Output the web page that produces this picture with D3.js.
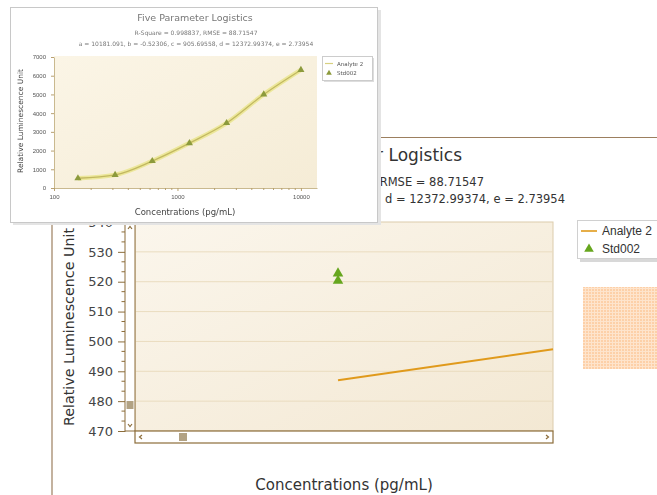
<!DOCTYPE html>
<html><head><meta charset="utf-8">
<script src="https://cdn.jsdelivr.net/npm/d3@7"></script>
<style>
html,body{margin:0;padding:0;background:#fff;}
svg{display:block;font-family:"DejaVu Sans",Verdana,sans-serif;}
</style></head>
<body>
<svg id="c" width="657" height="495"></svg>
<script>
// ---------- data ----------
const chartTitle = "Five Parameter Logistics";
const statsLine = "R-Square = 0.998837, RMSE = 88.71547";
const paramLine = "a = 10181.091, b = -0.52306, c = 905.69558, d = 12372.99374, e = 2.73954";
const xTitle = "Concentrations (pg/mL)";
const yTitle = "Relative Luminescence Unit";
const seriesNames = ["Analyte 2", "Std002"];

// zoomed main chart
const mainYTicks = [470, 480, 490, 500, 510, 520, 530, 540];
const mainStdConc = [156.25, 156.25];
const mainStdRLU = [522.8, 520.3];
const mainCurveConc = [156.25, 160.4];
const mainCurveRLU = [487.0, 497.4];

// overview inset chart
const insetYTicks = [0, 1000, 2000, 3000, 4000, 5000, 6000, 7000];
const insetXTicks = [100, 1000, 10000];
const insetStdConc = [156.25, 312.5, 625, 1250, 2500, 5000, 10000];
const insetStdRLU = [521, 700, 1440, 2400, 3470, 5000, 6310];

const svg = d3.select("#c");
const defs = svg.append("defs");

const g1 = defs.append("linearGradient").attr("id","plotbg").attr("x1","0").attr("y1","0").attr("x2","1").attr("y2","1");
g1.append("stop").attr("offset","0").attr("stop-color","#fbf6ec");
g1.append("stop").attr("offset","1").attr("stop-color","#f3e8d3");

const g2 = defs.append("linearGradient").attr("id","insetbg").attr("x1","0").attr("y1","0").attr("x2","1").attr("y2","1");
g2.append("stop").attr("offset","0").attr("stop-color","#fbf5e6");
g2.append("stop").attr("offset","1").attr("stop-color","#f5ecd6");

const pat = defs.append("pattern").attr("id","grid").attr("width",3).attr("height",3).attr("patternUnits","userSpaceOnUse");
pat.append("rect").attr("width",3).attr("height",3).attr("fill","#fdd0a8");
pat.append("path").attr("d","M0,0.5H3M0.5,0V3").attr("stroke","#fee4cc").attr("stroke-width",1);

const blur = defs.append("filter").attr("id","soft").attr("x","-5%").attr("y","-5%").attr("width","110%").attr("height","110%");
blur.append("feGaussianBlur").attr("stdDeviation",0.45);

defs.append("clipPath").attr("id","vis").append("rect").attr("x",378).attr("y",140).attr("width",279).attr("height",80);

const brown = "#8c6d3a";
const orange = "#e09a1c";
const green = "#66a61e";

// ---------- main (zoomed) chart ----------
svg.append("line").attr("x1",52).attr("x2",52).attr("y1",137).attr("y2",495).attr("stroke","#9c7f5f").attr("stroke-width",1.2);
svg.append("line").attr("x1",52).attr("x2",657).attr("y1",137.5).attr("y2",137.5).attr("stroke","#9c7f5f").attr("stroke-width",1.2);

const T = svg.append("g").attr("clip-path","url(#vis)");
T.append("text").attr("x",462).attr("y",161).attr("text-anchor","end")
  .attr("font-size",17).attr("fill","#333").text(chartTitle);
T.append("text").attr("x",484).attr("y",186).attr("text-anchor","end")
  .attr("font-size",11.5).attr("fill","#333").text(statsLine);
T.append("text").attr("x",565).attr("y",203).attr("text-anchor","end")
  .attr("font-size",11.5).attr("fill","#333").text(paramLine);

const P = {l:135, r:553, t:222, b:431};
const x = d3.scaleLog().domain([152.43, 160.4]).range([P.l, P.r]);
const y = d3.scaleLinear().domain([470, 540]).range([P.b, P.t]);

svg.append("rect").attr("x",P.l).attr("y",P.t).attr("width",P.r-P.l).attr("height",P.b-P.t)
  .attr("fill","url(#plotbg)").attr("stroke","#dcccac").attr("stroke-width",1);

svg.append("g").selectAll("line").data(mainYTicks.slice(1,-1)).join("line")
  .attr("x1",P.l).attr("x2",P.r).attr("y1",d=>y(d)).attr("y2",d=>y(d))
  .attr("stroke","#eadcbf").attr("stroke-width",1);

const line = d3.line().x(d=>x(d[0])).y(d=>y(d[1]));
svg.append("path").datum(d3.zip(mainCurveConc, mainCurveRLU)).attr("d",line)
  .attr("fill","none").attr("stroke",orange).attr("stroke-width",2);

const tri = d3.symbol().type(d3.symbolTriangle).size(48);
svg.append("g").selectAll("path").data(d3.zip(mainStdConc, mainStdRLU)).join("path")
  .attr("d",tri).attr("transform",d=>`translate(${x(d[0])},${y(d[1])})`).attr("fill",green);

// y axis
const axX = 125;
const yAxis = d3.axisLeft(y).tickValues(mainYTicks).tickSize(7).tickSizeOuter(0).tickPadding(5);
const ga = svg.append("g").attr("transform",`translate(${axX},0)`).call(yAxis);
ga.select(".domain").attr("stroke",brown);
ga.selectAll(".tick line").attr("stroke",brown);
ga.selectAll(".tick text").attr("font-size",13).attr("fill","#444").attr("font-family","DejaVu Sans, sans-serif");
const minor = d3.range(470, 540.01, 10/3).filter(v => Math.abs(v - Math.round(v/10)*10) > 0.5);
svg.append("g").selectAll("line").data(minor).join("line")
  .attr("x1",axX-3.5).attr("x2",axX).attr("y1",d=>y(d)).attr("y2",d=>y(d)).attr("stroke",brown);

// vertical scrollbar
svg.append("rect").attr("x",axX).attr("y",P.t).attr("width",P.l-axX).attr("height",P.b-P.t)
  .attr("fill","#fff").attr("stroke",brown).attr("stroke-width",1);
svg.append("path").attr("d",`M${axX+3},${P.t+7}L${axX+5},${P.t+4.5}L${axX+7},${P.t+7}`).attr("fill","none").attr("stroke",brown).attr("stroke-width",1.2);
svg.append("path").attr("d",`M${axX+3},${P.b-7}L${axX+5},${P.b-4.5}L${axX+7},${P.b-7}`).attr("fill","none").attr("stroke",brown).attr("stroke-width",1.2);
svg.append("rect").attr("x",axX+1.5).attr("y",401).attr("width",7).attr("height",8).attr("fill","#b2a283");

// horizontal scrollbar
svg.append("rect").attr("x",P.l).attr("y",P.b).attr("width",P.r-P.l).attr("height",12)
  .attr("fill","#fff").attr("stroke",brown).attr("stroke-width",1.2);
svg.append("path").attr("d",`M${P.l+7},${P.b+4}L${P.l+4.5},${P.b+6}L${P.l+7},${P.b+8}`).attr("fill","none").attr("stroke",brown).attr("stroke-width",1.2);
svg.append("path").attr("d",`M${P.r-7},${P.b+4}L${P.r-4.5},${P.b+6}L${P.r-7},${P.b+8}`).attr("fill","none").attr("stroke",brown).attr("stroke-width",1.2);
svg.append("rect").attr("x",179).attr("y",P.b+2).attr("width",8).attr("height",8).attr("fill","#b2a283");

// axis titles
svg.append("text").attr("x",344).attr("y",490).attr("text-anchor","middle")
  .attr("font-size",15).attr("fill","#333").text(xTitle);
svg.append("text").attr("transform","translate(74,327) rotate(-90)").attr("text-anchor","middle")
  .attr("font-size",14.3).attr("fill","#333").text(yTitle);

// legend
const L = svg.append("g");
L.append("rect").attr("x",580).attr("y",223).attr("width",90).attr("height",39).attr("fill","#d8d8d8");
L.append("rect").attr("x",577.5).attr("y",220.5).attr("width",90).attr("height",38).attr("fill","#fff").attr("stroke","#d0d0d0");
L.append("line").attr("x1",581).attr("x2",597).attr("y1",231).attr("y2",231).attr("stroke",orange).attr("stroke-width",1.6);
L.append("path").attr("d",d3.symbol().type(d3.symbolTriangle).size(40)).attr("transform","translate(589,249)").attr("fill",green);
L.selectAll("text").data(seriesNames).join("text")
  .attr("x",602).attr("y",(d,i)=>235+i*18).attr("font-size",12).attr("font-family","Liberation Sans, Arial, sans-serif")
  .attr("fill","#333").text(d=>d);

// patterned box
svg.append("rect").attr("x",583).attr("y",287).attr("width",74).attr("height",82).attr("fill","url(#grid)");

// ---------- inset (overview) ----------
svg.append("rect").attr("x",13).attr("y",10).attr("width",368).attr("height",215).attr("fill","#e4e4e4");
const I = svg.append("g").attr("filter","url(#soft)");
I.append("rect").attr("x",10.5).attr("y",7.5).attr("width",367).attr("height",215).attr("fill","#fff").attr("stroke","#c8c8c8");

I.append("text").attr("x",195).attr("y",21).attr("text-anchor","middle").attr("font-size",9.5).attr("fill","#777").text(chartTitle);
I.append("text").attr("x",196).attr("y",35).attr("text-anchor","middle").attr("font-size",6).attr("fill","#777").text(statsLine);
I.append("text").attr("x",196).attr("y",46).attr("text-anchor","middle").attr("font-size",6).attr("fill","#777").text(paramLine);

const Q = {l:54, r:317, t:56, b:188};
const ix = d3.scaleLog().domain([100, 13500]).range([Q.l, Q.r]);
const iy = d3.scaleLinear().domain([0, 7000]).range([Q.b, Q.t+1]);
I.append("rect").attr("x",Q.l).attr("y",Q.t).attr("width",Q.r-Q.l).attr("height",Q.b-Q.t).attr("fill","url(#insetbg)");

const iyAxis = d3.axisLeft(iy).tickValues(insetYTicks).tickFormat(d3.format("d")).tickSize(3).tickPadding(5).tickSizeOuter(0);
const gy = I.append("g").attr("transform",`translate(${Q.l},0)`).call(iyAxis);
gy.select(".domain").attr("stroke","#c9b98f");
gy.selectAll(".tick line").attr("stroke","#b8a070");
gy.selectAll(".tick text").attr("font-size",6).attr("fill","#555");

const ixAxis = d3.axisBottom(ix).tickValues(insetXTicks).tickFormat(d3.format("d")).tickSize(3).tickPadding(4).tickSizeOuter(0);
const gx = I.append("g").attr("transform",`translate(0,${Q.b})`).call(ixAxis);
gx.select(".domain").attr("stroke","#c9b98f");
gx.selectAll(".tick line").attr("stroke","#b8a070");
gx.selectAll(".tick text").attr("font-size",6).attr("fill","#555");
const iminor = [200,300,400,500,600,700,800,900,2000,3000,4000,5000,6000,7000,8000,9000];
I.append("g").selectAll("line").data(iminor).join("line")
  .attr("x1",d=>ix(d)).attr("x2",d=>ix(d)).attr("y1",Q.b).attr("y2",Q.b+2).attr("stroke","#b8a070");

const iline = d3.line().x(d=>ix(d[0])).y(d=>iy(d[1])).curve(d3.curveMonotoneX);
const ipts = d3.zip(insetStdConc, insetStdRLU);
I.append("path").datum(ipts).attr("d",iline).attr("fill","none").attr("stroke","#ece79a").attr("stroke-width",4.5);
I.append("path").datum(ipts).attr("d",iline).attr("fill","none").attr("stroke","#c2b860").attr("stroke-width",1.3);
I.append("g").selectAll("path").data(ipts).join("path")
  .attr("d",d3.symbol().type(d3.symbolTriangle).size(22))
  .attr("transform",d=>`translate(${ix(d[0])},${iy(d[1])})`).attr("fill","#8c9a3c");

I.append("text").attr("x",185).attr("y",215).attr("text-anchor","middle").attr("font-size",8.5).attr("fill","#444").text(xTitle);
I.append("text").attr("transform","translate(23,121) rotate(-90)").attr("text-anchor","middle").attr("font-size",7.5).attr("fill","#444").text(yTitle);

// inset legend
I.append("rect").attr("x",324).attr("y",58).attr("width",50).attr("height",24).attr("fill","#ddd");
I.append("rect").attr("x",322.5).attr("y",56.5).attr("width",50).attr("height",24).attr("fill","#fff").attr("stroke","#ccc");
I.append("line").attr("x1",325).attr("x2",333).attr("y1",63.5).attr("y2",63.5).attr("stroke","#d8d080").attr("stroke-width",1.2);
I.append("path").attr("d",d3.symbol().type(d3.symbolTriangle).size(14)).attr("transform","translate(329,73)").attr("fill","#8c9a3c");
I.selectAll("text.lg").data(seriesNames).join("text").attr("class","lg")
  .attr("x",337).attr("y",(d,i)=>65.5+i*9.5).attr("font-size",5.5).attr("fill","#555").text(d=>d);
</script>
</body></html>
